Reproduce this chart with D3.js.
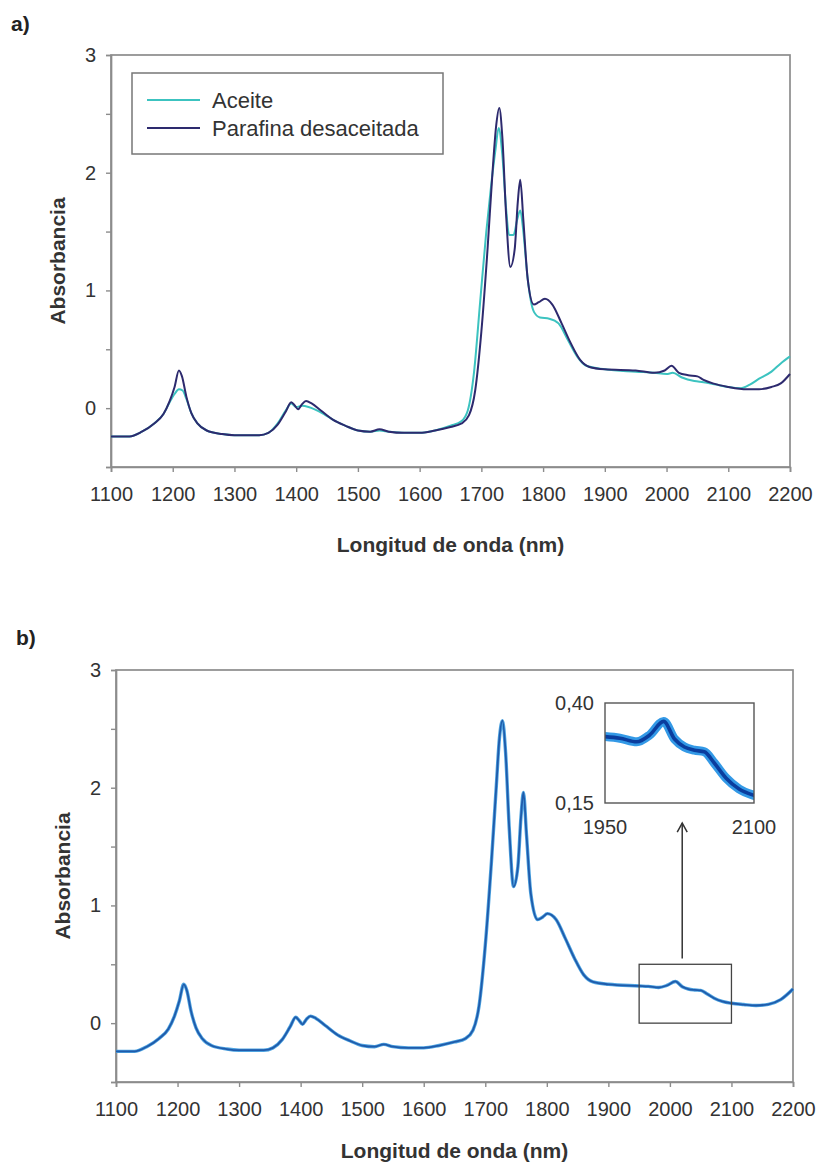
<!DOCTYPE html>
<html>
<head>
<meta charset="utf-8">
<script src="https://cdn.jsdelivr.net/npm/d3@7"></script>
<style>
  body { margin: 0; background: #fff; }
  svg text { font-family: "Liberation Sans", Arial, sans-serif; fill: #333; }
</style>
</head>
<body>
<svg id="canvas" width="822" height="1168"></svg>
<script>
// tick labels
let xTicks = [1100, 1200, 1300, 1400, 1500, 1600, 1700, 1800, 1900, 2000, 2100, 2200]
let yTicks = [-0.5, 0, 0.5, 1, 1.5, 2, 2.5, 3]
let insetXTicks = [1950, 2100]
let insetYTicks = [0.15, 0.40]

let seriesNames = ['Aceite', 'Parafina desaceitada']

// panel a) spectra, [wavelength nm, absorbance]
let aceite = [[1100,-0.24],[1130,-0.24],[1150,-0.2],[1170,-0.13],[1185,-0.05],[1195,0.05],[1203,0.12],[1210,0.16],[1216,0.15],[1222,0.08],[1230,-0.04],[1240,-0.13],[1255,-0.19],[1280,-0.22],[1300,-0.23],[1340,-0.23],[1355,-0.21],[1370,-0.13],[1383,-0.02],[1392,0.04],[1400,0.01],[1410,0.02],[1420,0.01],[1430,-0.01],[1445,-0.05],[1460,-0.1],[1480,-0.15],[1500,-0.19],[1520,-0.2],[1535,-0.19],[1550,-0.2],[1575,-0.21],[1600,-0.21],[1625,-0.19],[1650,-0.15],[1668,-0.11],[1678,-0.02],[1688,0.3],[1698,0.9],[1708,1.5],[1716,1.9],[1723,2.2],[1728,2.38],[1734,2.15],[1740,1.7],[1745,1.47],[1752,1.47],[1758,1.6],[1763,1.68],[1768,1.5],[1775,1.1],[1785,0.82],[1795,0.77],[1810,0.76],[1825,0.72],[1840,0.58],[1855,0.44],[1870,0.36],[1900,0.33],[1950,0.31],[1980,0.3],[2000,0.29],[2010,0.3],[2025,0.26],[2045,0.23],[2060,0.22],[2080,0.2],[2100,0.18],[2120,0.17],[2135,0.2],[2150,0.25],[2170,0.31],[2185,0.38],[2200,0.44]]

let parafina = [[1100,-0.24],[1130,-0.24],[1150,-0.2],[1170,-0.13],[1185,-0.05],[1195,0.06],[1203,0.18],[1210,0.32],[1215,0.27],[1222,0.1],[1230,-0.04],[1240,-0.13],[1255,-0.19],[1280,-0.22],[1300,-0.23],[1340,-0.23],[1355,-0.21],[1370,-0.14],[1383,-0.03],[1392,0.05],[1398,0.02],[1403,-0.01],[1409,0.03],[1416,0.06],[1425,0.04],[1440,-0.02],[1460,-0.1],[1480,-0.15],[1500,-0.19],[1520,-0.2],[1535,-0.18],[1550,-0.2],[1575,-0.21],[1600,-0.21],[1625,-0.19],[1650,-0.16],[1668,-0.13],[1680,-0.06],[1690,0.15],[1700,0.65],[1710,1.35],[1718,2.0],[1724,2.4],[1729,2.55],[1734,2.3],[1740,1.65],[1747,1.2],[1754,1.35],[1759,1.75],[1763,1.94],[1768,1.6],[1775,1.1],[1785,0.88],[1793,0.9],[1803,0.93],[1815,0.88],[1830,0.72],[1845,0.55],[1860,0.41],[1875,0.35],[1900,0.33],[1950,0.32],[1980,0.3],[1997,0.32],[2008,0.36],[2020,0.3],[2035,0.28],[2050,0.27],[2060,0.24],[2075,0.21],[2100,0.18],[2130,0.16],[2150,0.16],[2170,0.18],[2185,0.21],[2200,0.29]]

// panel b) spectra (all samples overlap)
let muestras = [[1100,-0.24],[1130,-0.24],[1150,-0.2],[1170,-0.13],[1185,-0.05],[1195,0.06],[1203,0.19],[1210,0.33],[1215,0.28],[1222,0.1],[1230,-0.04],[1240,-0.13],[1255,-0.19],[1280,-0.22],[1300,-0.23],[1340,-0.23],[1355,-0.21],[1370,-0.14],[1383,-0.03],[1392,0.05],[1398,0.02],[1403,-0.01],[1409,0.03],[1416,0.06],[1425,0.04],[1440,-0.02],[1460,-0.1],[1480,-0.15],[1500,-0.19],[1520,-0.2],[1535,-0.18],[1550,-0.2],[1575,-0.21],[1600,-0.21],[1625,-0.19],[1650,-0.16],[1668,-0.13],[1680,-0.06],[1690,0.15],[1700,0.66],[1710,1.37],[1718,2.02],[1723,2.42],[1728,2.57],[1733,2.3],[1739,1.65],[1746,1.16],[1753,1.33],[1758,1.75],[1762,1.96],[1767,1.6],[1774,1.1],[1785,0.88],[1793,0.9],[1801,0.93],[1815,0.88],[1830,0.72],[1845,0.55],[1860,0.41],[1875,0.35],[1900,0.33],[1950,0.316],[1965,0.312],[1982,0.303],[1995,0.32],[2009,0.354],[2020,0.31],[2030,0.29],[2040,0.282],[2050,0.278],[2060,0.25],[2072,0.212],[2085,0.185],[2100,0.169],[2120,0.158],[2140,0.15],[2160,0.16],[2180,0.2],[2200,0.29]]

let svg = d3.select('#canvas')
let fontFamily = '"Liberation Sans", Arial, sans-serif'

let line = (x, y) => d3.line()
    .x(d => x(d[0]))
    .y(d => y(d[1]))
    .curve(d3.curveMonotoneX)

let drawPanel = (p) => {
    let x = d3.scaleLinear().domain([1100, 2200]).range([p.left, p.right])
    let y = d3.scaleLinear().domain([-0.5, 3]).range([p.bottom, p.top])

    svg.append('text').text(p.tag)
        .attr('x', p.tagX).attr('y', p.tagY)
        .style('font-size', '21px').style('font-weight', 'bold').style('fill', '#222')

    svg.append('rect')
        .attr('x', p.left).attr('y', p.top)
        .attr('width', p.right - p.left).attr('height', p.bottom - p.top)
        .attr('fill', 'none').attr('stroke', '#8c8c8c').attr('stroke-width', 1.7)

    let gx = svg.append('g')
        .attr('transform', 'translate(0,' + p.bottom + ')')
        .call(d3.axisBottom(x).tickValues(xTicks).tickFormat(d3.format('d')).tickSize(5).tickPadding(15))
    let gy = svg.append('g')
        .attr('transform', 'translate(' + p.left + ',0)')
        .call(d3.axisLeft(y).tickValues(yTicks).tickFormat(d => Number.isInteger(d) && d >= 0 ? d : '').tickSize(5).tickPadding(10))
    ;[gx, gy].forEach(g => {
        g.select('.domain').attr('stroke', '#8c8c8c').attr('stroke-width', 1.7)
        g.selectAll('.tick line').attr('stroke', '#8c8c8c').attr('stroke-width', 1.4)
        g.selectAll('.tick text').style('font-size', '20px').style('font-family', fontFamily).attr('fill', '#333')
    })

    svg.append('text').text('Longitud de onda (nm)')
        .attr('x', (p.left + p.right) / 2).attr('y', p.bottom + p.titleGap)
        .attr('text-anchor', 'middle')
        .style('font-size', '21px').style('font-weight', 'bold')

    svg.append('text').text('Absorbancia')
        .attr('transform', 'translate(' + (p.left - 46) + ',' + ((p.top + p.bottom) / 2) + ') rotate(-90)')
        .attr('text-anchor', 'middle')
        .style('font-size', '21px').style('font-weight', 'bold')

    return {x, y}
}

// ---- a) ----
let a = drawPanel({tag: 'a)', tagX: 11, tagY: 31, left: 111, right: 790, top: 55, bottom: 467, titleGap: 85})

let colorAceite = '#3cc3c0'
let colorParafina = '#2d2a6e'

svg.append('path').datum(aceite)
    .attr('d', line(a.x, a.y))
    .attr('fill', 'none').attr('stroke', colorAceite).attr('stroke-width', 2)
svg.append('path').datum(parafina)
    .attr('d', line(a.x, a.y))
    .attr('fill', 'none').attr('stroke', colorParafina).attr('stroke-width', 2)

let legend = svg.append('g')
legend.append('rect')
    .attr('x', 132).attr('y', 73).attr('width', 311).attr('height', 81)
    .attr('fill', '#fff').attr('stroke', '#777').attr('stroke-width', 1.5)
seriesNames.forEach((name, i) => {
    let ly = 100 + i * 28
    legend.append('line')
        .attr('x1', 147).attr('x2', 200).attr('y1', ly).attr('y2', ly)
        .attr('stroke', i === 0 ? colorAceite : colorParafina).attr('stroke-width', 2)
    legend.append('text').text(name)
        .attr('x', 212).attr('y', ly + 8)
        .style('font-size', '22px')
})

// ---- b) ----
let b = drawPanel({tag: 'b)', tagX: 16, tagY: 645, left: 116, right: 793, top: 670, bottom: 1082, titleGap: 76})

svg.append('path').datum(muestras)
    .attr('d', line(b.x, b.y))
    .attr('fill', 'none').attr('stroke', '#4ea3e0').attr('stroke-width', 3.4)
svg.append('path').datum(muestras)
    .attr('d', line(b.x, b.y))
    .attr('fill', 'none').attr('stroke', '#1f5bab').attr('stroke-width', 1.8)

// zoom box in main plot
svg.append('rect')
    .attr('x', b.x(1950)).attr('y', b.y(0.5))
    .attr('width', b.x(2100) - b.x(1950)).attr('height', b.y(0) - b.y(0.5))
    .attr('fill', 'none').attr('stroke', '#444').attr('stroke-width', 1.3)

// arrow
let arrowTop = b.y(1.70)
svg.append('line')
    .attr('x1', b.x(2020)).attr('x2', b.x(2020))
    .attr('y1', b.y(0.55)).attr('y2', arrowTop)
    .attr('stroke', '#333').attr('stroke-width', 1.5)
svg.append('path')
    .attr('d', 'M' + (b.x(2020) - 5) + ',' + (arrowTop + 9) + 'L' + b.x(2020) + ',' + arrowTop + 'L' + (b.x(2020) + 5) + ',' + (arrowTop + 9))
    .attr('fill', 'none').attr('stroke', '#333').attr('stroke-width', 1.5)

// inset
let ix = d3.scaleLinear().domain([1950, 2100]).range([605, 754])
let iy = d3.scaleLinear().domain([0.15, 0.40]).range([803, 703])

svg.append('clipPath').attr('id', 'insetClip')
    .append('rect').attr('x', 605).attr('y', 703).attr('width', 149).attr('height', 100)

let insetData = muestras.filter(d => d[0] >= 1935 && d[0] <= 2125)
let inset = svg.append('g').attr('clip-path', 'url(#insetClip)')
inset.append('path').datum(insetData)
    .attr('d', line(ix, iy))
    .attr('fill', 'none').attr('stroke', '#3399e6').attr('stroke-width', 9).attr('stroke-linejoin', 'round')
inset.append('path').datum(insetData)
    .attr('d', line(ix, iy))
    .attr('fill', 'none').attr('stroke', '#0a3d9e').attr('stroke-width', 3.6).attr('stroke-linejoin', 'round')

svg.append('rect')
    .attr('x', 605).attr('y', 703).attr('width', 149).attr('height', 100)
    .attr('fill', 'none').attr('stroke', '#555').attr('stroke-width', 1.4)

svg.selectAll('.iyt').data(insetYTicks).enter().append('text')
    .attr('class', 'iyt')
    .text(d => d3.format('.2f')(d).replace('.', ','))
    .attr('x', 594).attr('y', d => iy(d) + 7)
    .attr('text-anchor', 'end')
    .style('font-size', '20px')
svg.selectAll('.ixt').data(insetXTicks).enter().append('text')
    .attr('class', 'ixt')
    .text(d => d)
    .attr('x', d => ix(d)).attr('y', 834)
    .attr('text-anchor', 'middle')
    .style('font-size', '20px')
</script>
</body>
</html>
